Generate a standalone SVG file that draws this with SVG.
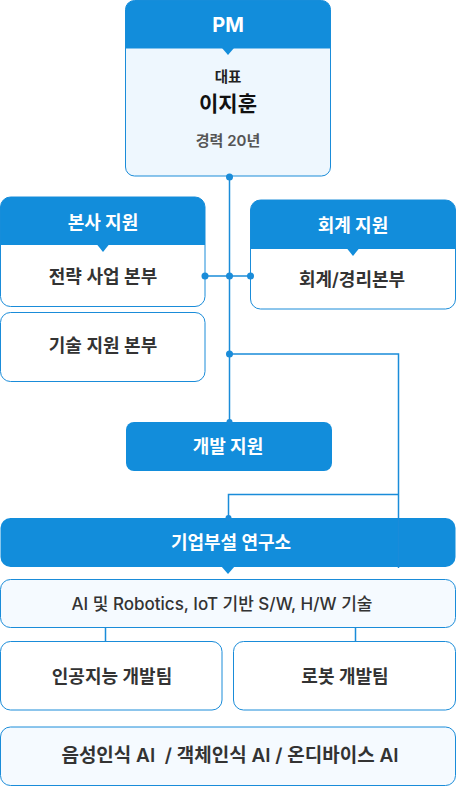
<svg xmlns="http://www.w3.org/2000/svg" width="456" height="786" viewBox="0 0 456 786">
<style>
text{font-family:Inter,"Noto Sans CJK KR",sans-serif;text-anchor:middle;dominant-baseline:central;white-space:pre}
.box{stroke:#1a8cd9;stroke-width:1}
.blue{fill:#128ddb}
.w{fill:#ffffff}
.lt{fill:#eef7fe}
.lt2{fill:#f5faff}
.hd{fill:#fff;font-weight:700;font-size:18px}
.bd{fill:#333;font-weight:600;font-size:18px}
.ln{stroke:#1a8cd9;stroke-width:1.5;fill:none}
.dot{fill:#1a8cd9}
</style>
<g id="pm">
<rect class="box lt" x="125.5" y="0.5" width="205" height="175.5" rx="9"/>
<path class="blue" d="M125.5,48.5 V9.5 a9,9 0 0 1 9,-9 H321.5 a9,9 0 0 1 9,9 V48.5 Z"/>
<path class="blue" d="M222,48 L228,55 L234,48 Z"/>
<text class="hd" x="228" y="24.5" style="font-size:20px">PM</text>
<text x="228" y="76" style="font-size:14.5px;font-weight:600;fill:#222">대표</text>
<text x="228" y="103" style="font-size:21px;font-weight:700;fill:#111">이지훈</text>
<text x="228" y="140" style="font-size:15px;font-weight:600;fill:#555">경력 20년</text>
</g>
<g id="bonsa">
<rect class="box w" x="0.5" y="197" width="204.5" height="109.5" rx="10"/>
<path class="blue" d="M0.5,245 V207 a10,10 0 0 1 10,-10 H195 a10,10 0 0 1 10,10 V245 Z"/>
<path class="blue" d="M97,244.5 L103,252 L109,244.5 Z"/>
<text class="hd" x="103" y="222">본사 지원</text>
<text class="bd" x="103" y="276">전략 사업 본부</text>
</g>
<g id="hoegye">
<rect class="box w" x="250.5" y="200" width="205" height="109" rx="10"/>
<path class="blue" d="M250.5,249 V210 a10,10 0 0 1 10,-10 H445.5 a10,10 0 0 1 10,10 V249 Z"/>
<path class="blue" d="M347,248.5 L353,256 L359,248.5 Z"/>
<text class="hd" x="353" y="225.5">회계 지원</text>
<text class="bd" x="352" y="279">회계/경리본부</text>
</g>
<g id="gisul">
<rect class="box w" x="0.5" y="312.5" width="204.5" height="69" rx="10"/>
<text class="bd" x="103" y="345">기술 지원 본부</text>
</g>
<g id="gaebal">
<rect class="blue" x="126" y="422" width="206" height="49" rx="8"/>
<text class="hd" x="228" y="446">개발 지원</text>
</g>
<g id="lab">
<rect class="blue" x="0.5" y="518" width="455" height="49" rx="10"/>
<path class="blue" d="M221,566 L228,574 L235,566 Z"/>
<text class="hd" x="231" y="542">기업부설 연구소</text>
</g>
<g id="ai-robotics">
<rect class="box lt2" x="0.5" y="579.5" width="455" height="48" rx="10"/>
<text x="222" y="603.5" style="font-size:17px;font-weight:500;fill:#333">AI 및 Robotics, IoT 기반 S/W, H/W 기술</text>
</g>
<g id="ai-team">
<rect class="box w" x="0.5" y="641.5" width="221.5" height="68.5" rx="10"/>
<text class="bd" x="112" y="676">인공지능 개발팀</text>
</g>
<g id="robot-team">
<rect class="box w" x="233.5" y="641.5" width="222" height="68.5" rx="10"/>
<text class="bd" x="345" y="676">로봇 개발팀</text>
</g>
<g id="ai-types">
<rect class="box lt2" x="0.5" y="727" width="455" height="58.5" rx="10"/>
<text class="bd" x="230" y="755" style="font-size:19px">음성인식 AI  / 객체인식 AI / 온디바이스 AI</text>
</g>
<g id="connectors">
<path class="ln" d="M229.5,177 V422"/>
<path class="ln" d="M205,276 H250.5"/>
<path class="ln" d="M229.5,354 H398.5 V568"/>
<path class="ln" d="M228.5,518 V494.5 H398.5"/>
<path class="ln" d="M105.5,627.5 V641.5 M355.5,627.5 V641.5"/>
<circle class="dot" cx="229.5" cy="177" r="3.5"/>
<circle class="dot" cx="205" cy="276" r="3.5"/>
<circle class="dot" cx="229.5" cy="276" r="3.5"/>
<circle class="dot" cx="250.5" cy="276" r="3.5"/>
<circle class="dot" cx="229.5" cy="354" r="3.5"/>
<circle class="dot" cx="229.5" cy="422" r="3"/>
<circle class="dot" cx="228.5" cy="518" r="3"/>
</g>
</svg>
